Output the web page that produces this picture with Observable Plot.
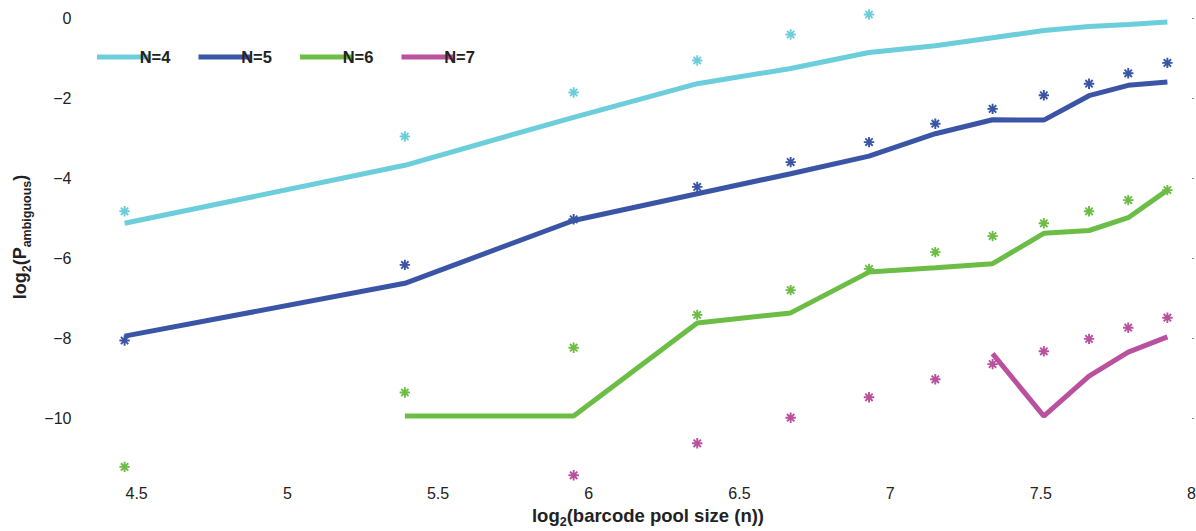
<!DOCTYPE html>
<html>
<head>
<meta charset="utf-8">
<script src="https://cdn.jsdelivr.net/npm/d3@7"></script>
<script src="https://cdn.jsdelivr.net/npm/@observablehq/plot@0.6"></script>
<style>
  html, body { margin: 0; padding: 0; background: #fff; }
  #chart { width: 1196px; height: 531px; position: relative; }
</style>
</head>
<body>
<div id="chart"></div>
<script>
// log2(barcode pool size) positions
const xs = [4.46, 5.39, 5.95, 6.36, 6.67, 6.93, 7.15, 7.34, 7.51, 7.66, 7.79, 7.92];

// Lines (log2 P_ambiguous, model)
const line4 = [-5.12, -3.67, -2.47, -1.63, -1.25, -0.85, -0.68, -0.48, -0.30, -0.20, -0.15, -0.09];
const line5 = [-7.94, -6.62, -5.05, -4.38, -3.88, -3.44, -2.88, -2.53, -2.54, -1.93, -1.67, -1.59];
const line6 = [null, -9.94, -9.94, -7.61, -7.36, -6.34, -6.23, -6.13, -5.37, -5.30, -4.98, -4.29];
const line7 = [null, null, null, null, null, null, null, -8.38, -9.94, -8.94, -8.34, -7.96];

// Asterisk markers
const star4 = [-4.82, -2.95, -1.85, -1.05, -0.40, 0.10, null, null, null, null, null, null];
const star5 = [-8.05, -6.16, -5.02, -4.21, -3.59, -3.09, -2.63, -2.26, -1.92, -1.63, -1.37, -1.11];
const star6 = [-11.21, -9.35, -8.23, -7.41, -6.79, -6.26, -5.84, -5.44, -5.12, -4.82, -4.54, -4.29];
const star7 = [null, null, -11.42, -10.62, -9.98, -9.47, -9.02, -8.64, -8.32, -8.01, -7.73, -7.48];

const seriesNames = ["N=4", "N=5", "N=6", "N=7"];
const seriesColors = ["#6ccddb", "#3a55a6", "#6cbd45", "#b9519f"];
const yTicks = [0, -2, -4, -6, -8, -10];
const xTicks = [4.5, 5, 5.5, 6, 6.5, 7, 7.5, 8];

const lines = [line4, line5, line6, line7];
const stars = [star4, star5, star6, star7];

const lineData = [];
const starData = [];
seriesNames.forEach((name, i) => {
  xs.forEach((x, j) => {
    lineData.push({x, y: lines[i][j], N: name});
    if (stars[i][j] != null) starData.push({x, y: stars[i][j], N: name});
  });
});

const asterisk8 = {
  draw(ctx, size) {
    const r = Math.sqrt(size / Math.PI);
    const d = r * Math.SQRT1_2;
    ctx.moveTo(-r, 0); ctx.lineTo(r, 0);
    ctx.moveTo(0, -r); ctx.lineTo(0, r);
    ctx.moveTo(-d, -d); ctx.lineTo(d, d);
    ctx.moveTo(-d, d); ctx.lineTo(d, -d);
  }
};

const chart = Plot.plot({
  width: 1196,
  height: 531,
  marginTop: 0,
  marginBottom: 49,
  marginLeft: 106,
  marginRight: 5,
  style: { fontFamily: "'Liberation Sans', Arial, Helvetica, sans-serif", fontSize: "16px", color: "#222", background: "#fff" },
  x: { domain: [4.4, 8.0] },
  y: { domain: [-11.6, 0.45] },
  color: { domain: seriesNames, range: seriesColors },
  marks: [
    Plot.axisX({ ticks: xTicks, tickSize: 0, tickPadding: 5, label: null, fontSize: 16, tickFormat: d => String(d) }),
    Plot.axisY({ ticks: yTicks, tickSize: 0, tickPadding: 35, label: null, fontSize: 16 }),
    Plot.axisY({ anchor: "right", ticks: yTicks, tickSize: 2, text: null, label: null, stroke: "#888" }),
    Plot.line(lineData, { x: "x", y: "y", z: "N", stroke: "N", strokeWidth: 5, strokeLinejoin: "miter", strokeLinecap: "butt" }),
    Plot.dot(starData, { x: "x", y: "y", stroke: "N", symbol: () => asterisk8, r: 5.2, strokeWidth: 1.9, fill: "none" })
  ]
});

const svg = d3.select(chart);
const font = "'Liberation Sans', Arial, Helvetica, sans-serif";

// X axis label with subscript
const xl = svg.append("text")
  .attr("x", 648).attr("y", 522)
  .attr("text-anchor", "middle")
  .attr("font-family", font).attr("font-size", 18.5).attr("font-weight", "bold").attr("fill", "#222");
xl.append("tspan").text("log");
xl.append("tspan").attr("font-size", 12.5).attr("dy", 4).text("2");
xl.append("tspan").attr("dy", -4).text("(barcode pool size (n))");

// Y axis label with subscripts
const yl = svg.append("text")
  .attr("transform", "translate(26,237) rotate(-90)")
  .attr("text-anchor", "middle")
  .attr("font-family", font).attr("font-size", 18).attr("font-weight", "bold").attr("fill", "#222");
yl.append("tspan").text("log");
yl.append("tspan").attr("font-size", 12.5).attr("dy", 5).text("2");
yl.append("tspan").attr("dy", -5).text("(P");
yl.append("tspan").attr("font-size", 12.5).attr("dy", 5).text("ambiguous");
yl.append("tspan").attr("dy", -5).text(")");

// Legend inside the plot, top-left
const lg = svg.append("g").attr("transform", "translate(97,57)");
seriesNames.forEach((name, i) => {
  const g = lg.append("g").attr("transform", `translate(${i * 101.5},0)`);
  g.append("line").attr("x1", 0).attr("x2", 52).attr("y1", 0).attr("y2", 0)
    .attr("stroke", seriesColors[i]).attr("stroke-width", 5);
  g.append("text").attr("x", 58).attr("y", 0).attr("dy", "0.36em")
    .attr("font-family", font).attr("font-size", 16.5).attr("font-weight", "bold").attr("fill", "#222")
    .text(name);
});

document.getElementById("chart").appendChild(chart);
</script>
</body>
</html>
